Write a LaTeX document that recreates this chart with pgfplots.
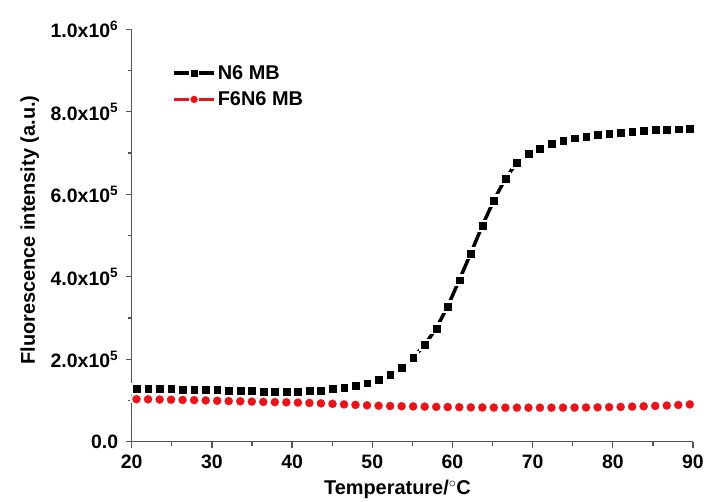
\documentclass[border=0pt]{standalone}
\usepackage{pgfplots}
\pgfplotsset{compat=1.18}
\usepackage{pgfplotstable}
\usepackage{fontspec}
\setmainfont{Liberation Sans}
\definecolor{myred}{RGB}{232,20,26}
\definecolor{axgray}{RGB}{85,85,85}

% values in units of 10^5
\pgfplotstableread{
T N F
20.60 1.279 1.030
22.04 1.279 1.028
23.48 1.279 1.022
24.91 1.279 1.018
26.35 1.271 1.012
27.79 1.271 1.008
29.23 1.263 1.000
30.66 1.255 0.992
32.10 1.247 0.985
33.54 1.239 0.980
34.98 1.231 0.972
36.41 1.223 0.965
37.85 1.223 0.960
39.29 1.223 0.955
40.73 1.223 0.948
42.16 1.231 0.940
43.60 1.239 0.930
45.04 1.279 0.918
46.48 1.32 0.905
47.91 1.36 0.893
49.35 1.42 0.882
50.79 1.50 0.872
52.23 1.62 0.866
53.66 1.80 0.860
55.10 2.04 0.855
56.54 2.35 0.850
57.98 2.75 0.845
59.41 3.28 0.840
60.85 3.92 0.836
62.29 4.57 0.832
63.73 5.24 0.830
65.16 5.85 0.828
66.60 6.38 0.826
68.04 6.77 0.825
69.48 6.98 0.825
70.91 7.11 0.825
72.35 7.22 0.825
73.79 7.30 0.826
75.23 7.36 0.828
76.66 7.40 0.830
78.10 7.44 0.834
79.54 7.48 0.838
80.98 7.50 0.843
82.41 7.52 0.850
83.85 7.54 0.858
85.29 7.56 0.867
86.73 7.57 0.877
88.16 7.58 0.890
89.60 7.59 0.905
}\data

\begin{document}
\begin{tikzpicture}
\begin{axis}[
  scale only axis, width=561.3bp, height=412.4bp,
  xmin=20, xmax=90, ymin=0, ymax=10,
  axis lines*=left,
  axis line style={-, axgray, line width=1.5bp},
  tick align=outside,
  xtick={20,30,...,90}, minor x tick num=1,
  ytick={0,2,4,6,8,10}, minor y tick num=1,
  yticklabels={0.0, 2.0x10\textsuperscript{5}, 4.0x10\textsuperscript{5}, 6.0x10\textsuperscript{5}, 8.0x10\textsuperscript{5}, 1.0x10\textsuperscript{6}},
  /pgf/number format/assume math mode=true,
  tick style={axgray, line width=1.3bp},
  major tick length=6bp, minor tick length=4bp,
  tick label style={font=\fontsize{19.5}{23}\selectfont\bfseries},
  yticklabel style={xshift=-4bp},
  xticklabel style={yshift=-4bp},
  xlabel={Temperature/$^{\circ}$C},
  xlabel style={font=\fontsize{20}{24}\selectfont\bfseries, at={(axis description cs:0.4735,0)}, anchor=base, yshift=-53bp},
  ylabel={Fluorescence intensity (a.u.)},
  ylabel style={font=\fontsize{20}{24}\selectfont\bfseries, at={(axis description cs:-0.1723,0.513)}, anchor=base},
  legend style={draw=none, fill=none, at={(axis description cs:0.072,0.918)}, anchor=north west, inner sep=0pt, row sep=7bp, font=\fontsize{20}{24}\selectfont\bfseries},
  legend cell align=left,
  clip=false,
]
% lines
\addplot[black, line width=3.5bp, forget plot] table[x=T,y=N]{\data};
\addplot[myred, line width=3.5bp, forget plot] table[x=T,y=F]{\data};
% white halos (gap to symbol)
\addplot[only marks, white, mark=square*, mark size=5.6bp, mark options={draw=white, fill=white, line width=0pt}, forget plot] table[x=T,y=N]{\data};
\addplot[only marks, white, mark=*, mark size=5.8bp, mark options={draw=white, fill=white, line width=0pt}, forget plot] table[x=T,y=F]{\data};
% symbols
\addplot[only marks, black, mark=square*, mark size=3.4bp, mark options={line width=0.2pt}, forget plot] table[x=T,y=N]{\data};
\addplot[only marks, myred, mark=*, mark size=4.1bp, mark options={line width=0.2pt}, forget plot] table[x=T,y=F]{\data};
% legend
\addlegendimage{black, line width=3.5bp, mark=square*, mark size=3bp, mark options={line width=0.2pt},
  legend image code/.code={\draw (0bp,0bp) -- (15bp,0bp) (25bp,0bp) -- (40bp,0bp); \draw plot coordinates {(20bp,0bp)};}}
\addlegendentry{N6 MB}
\addlegendimage{myred, line width=3.5bp, mark=*, mark size=3.5bp, mark options={line width=0.2pt},
  legend image code/.code={\draw (0bp,0bp) -- (15bp,0bp) (25bp,0bp) -- (40bp,0bp); \draw plot coordinates {(20bp,0bp)};}}
\addlegendentry{F6N6 MB}
\end{axis}
\pgfresetboundingbox
\path[use as bounding box] (-131.7bp,-60.3bp) rectangle (576.3bp,441.7bp);
\end{tikzpicture}
\end{document}
